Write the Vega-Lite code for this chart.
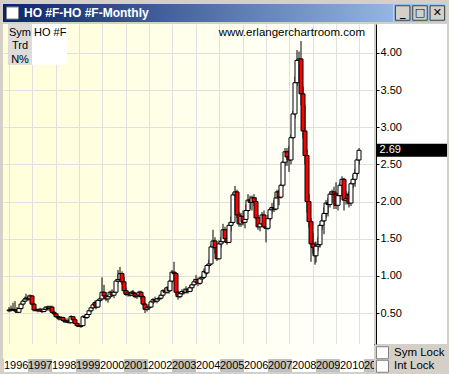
{
  "$schema": "https://vega.github.io/schema/vega-lite/v6.json",
  "background": "#D4D0C8",
  "padding": {"left": 3, "top": 3, "right": 4, "bottom": 4},
  "spacing": 1,
  "config": {
    "view": {"stroke": null},
    "font": "Liberation Sans",
    "concat": {"spacing": 0},
    "axis": {"labelFont": "Liberation Sans"}
  },
  "datasets": {
    "ho": [
      {"d":"1996-01-01","o":0.53,"h":0.58,"l":0.51,"c":0.54},
      {"d":"1996-02-01","o":0.54,"h":0.60,"l":0.52,"c":0.55},
      {"d":"1996-03-01","o":0.55,"h":0.64,"l":0.53,"c":0.54},
      {"d":"1996-04-01","o":0.54,"h":0.66,"l":0.52,"c":0.53},
      {"d":"1996-05-01","o":0.53,"h":0.58,"l":0.50,"c":0.51},
      {"d":"1996-06-01","o":0.51,"h":0.57,"l":0.50,"c":0.56},
      {"d":"1996-07-01","o":0.56,"h":0.64,"l":0.55,"c":0.62},
      {"d":"1996-08-01","o":0.62,"h":0.68,"l":0.60,"c":0.66},
      {"d":"1996-09-01","o":0.66,"h":0.72,"l":0.64,"c":0.69},
      {"d":"1996-10-01","o":0.69,"h":0.76,"l":0.67,"c":0.70},
      {"d":"1996-11-01","o":0.70,"h":0.74,"l":0.66,"c":0.69},
      {"d":"1996-12-01","o":0.69,"h":0.75,"l":0.67,"c":0.73},
      {"d":"1997-01-01","o":0.73,"h":0.74,"l":0.60,"c":0.62},
      {"d":"1997-02-01","o":0.62,"h":0.63,"l":0.52,"c":0.54},
      {"d":"1997-03-01","o":0.54,"h":0.57,"l":0.52,"c":0.54},
      {"d":"1997-04-01","o":0.54,"h":0.56,"l":0.51,"c":0.53},
      {"d":"1997-05-01","o":0.53,"h":0.57,"l":0.52,"c":0.55},
      {"d":"1997-06-01","o":0.55,"h":0.56,"l":0.50,"c":0.52},
      {"d":"1997-07-01","o":0.52,"h":0.56,"l":0.51,"c":0.55},
      {"d":"1997-08-01","o":0.55,"h":0.59,"l":0.53,"c":0.58},
      {"d":"1997-09-01","o":0.58,"h":0.60,"l":0.53,"c":0.56},
      {"d":"1997-10-01","o":0.56,"h":0.60,"l":0.53,"c":0.58},
      {"d":"1997-11-01","o":0.58,"h":0.60,"l":0.50,"c":0.51},
      {"d":"1997-12-01","o":0.51,"h":0.53,"l":0.47,"c":0.49},
      {"d":"1998-01-01","o":0.49,"h":0.50,"l":0.44,"c":0.45},
      {"d":"1998-02-01","o":0.45,"h":0.47,"l":0.42,"c":0.44},
      {"d":"1998-03-01","o":0.44,"h":0.46,"l":0.40,"c":0.42},
      {"d":"1998-04-01","o":0.42,"h":0.46,"l":0.41,"c":0.44},
      {"d":"1998-05-01","o":0.44,"h":0.45,"l":0.39,"c":0.40},
      {"d":"1998-06-01","o":0.40,"h":0.42,"l":0.37,"c":0.38},
      {"d":"1998-07-01","o":0.38,"h":0.43,"l":0.37,"c":0.39},
      {"d":"1998-08-01","o":0.39,"h":0.42,"l":0.36,"c":0.37},
      {"d":"1998-09-01","o":0.37,"h":0.47,"l":0.36,"c":0.45},
      {"d":"1998-10-01","o":0.45,"h":0.46,"l":0.39,"c":0.41},
      {"d":"1998-11-01","o":0.41,"h":0.43,"l":0.35,"c":0.36},
      {"d":"1998-12-01","o":0.36,"h":0.37,"l":0.31,"c":0.33},
      {"d":"1999-01-01","o":0.33,"h":0.36,"l":0.31,"c":0.32},
      {"d":"1999-02-01","o":0.32,"h":0.34,"l":0.30,"c":0.33},
      {"d":"1999-03-01","o":0.33,"h":0.47,"l":0.33,"c":0.45},
      {"d":"1999-04-01","o":0.45,"h":0.48,"l":0.42,"c":0.44},
      {"d":"1999-05-01","o":0.44,"h":0.50,"l":0.42,"c":0.48},
      {"d":"1999-06-01","o":0.48,"h":0.54,"l":0.45,"c":0.53},
      {"d":"1999-07-01","o":0.53,"h":0.58,"l":0.51,"c":0.57},
      {"d":"1999-08-01","o":0.57,"h":0.63,"l":0.55,"c":0.61},
      {"d":"1999-09-01","o":0.61,"h":0.67,"l":0.58,"c":0.64},
      {"d":"1999-10-01","o":0.64,"h":0.66,"l":0.55,"c":0.58},
      {"d":"1999-11-01","o":0.58,"h":0.69,"l":0.57,"c":0.67},
      {"d":"1999-12-01","o":0.67,"h":0.72,"l":0.64,"c":0.69},
      {"d":"2000-01-01","o":0.69,"h":0.98,"l":0.67,"c":0.78},
      {"d":"2000-02-01","o":0.78,"h":0.88,"l":0.70,"c":0.73},
      {"d":"2000-03-01","o":0.73,"h":0.78,"l":0.66,"c":0.69},
      {"d":"2000-04-01","o":0.69,"h":0.74,"l":0.64,"c":0.72},
      {"d":"2000-05-01","o":0.72,"h":0.80,"l":0.70,"c":0.78},
      {"d":"2000-06-01","o":0.78,"h":0.82,"l":0.72,"c":0.74},
      {"d":"2000-07-01","o":0.74,"h":0.80,"l":0.70,"c":0.78},
      {"d":"2000-08-01","o":0.78,"h":0.96,"l":0.76,"c":0.93},
      {"d":"2000-09-01","o":0.93,"h":1.08,"l":0.90,"c":0.95},
      {"d":"2000-10-01","o":0.95,"h":1.12,"l":0.92,"c":1.03},
      {"d":"2000-11-01","o":1.03,"h":1.06,"l":0.88,"c":0.92},
      {"d":"2000-12-01","o":0.92,"h":0.98,"l":0.76,"c":0.80},
      {"d":"2001-01-01","o":0.80,"h":0.84,"l":0.73,"c":0.75},
      {"d":"2001-02-01","o":0.75,"h":0.80,"l":0.72,"c":0.77},
      {"d":"2001-03-01","o":0.77,"h":0.79,"l":0.72,"c":0.74},
      {"d":"2001-04-01","o":0.74,"h":0.80,"l":0.73,"c":0.78},
      {"d":"2001-05-01","o":0.78,"h":0.81,"l":0.74,"c":0.76},
      {"d":"2001-06-01","o":0.76,"h":0.78,"l":0.70,"c":0.72},
      {"d":"2001-07-01","o":0.72,"h":0.76,"l":0.69,"c":0.74},
      {"d":"2001-08-01","o":0.74,"h":0.80,"l":0.72,"c":0.78},
      {"d":"2001-09-01","o":0.78,"h":0.80,"l":0.68,"c":0.72},
      {"d":"2001-10-01","o":0.72,"h":0.74,"l":0.60,"c":0.62},
      {"d":"2001-11-01","o":0.62,"h":0.64,"l":0.50,"c":0.55},
      {"d":"2001-12-01","o":0.55,"h":0.60,"l":0.52,"c":0.57},
      {"d":"2002-01-01","o":0.57,"h":0.62,"l":0.54,"c":0.58},
      {"d":"2002-02-01","o":0.58,"h":0.66,"l":0.57,"c":0.65},
      {"d":"2002-03-01","o":0.65,"h":0.70,"l":0.62,"c":0.68},
      {"d":"2002-04-01","o":0.68,"h":0.72,"l":0.64,"c":0.66},
      {"d":"2002-05-01","o":0.66,"h":0.70,"l":0.63,"c":0.69},
      {"d":"2002-06-01","o":0.69,"h":0.72,"l":0.66,"c":0.70},
      {"d":"2002-07-01","o":0.70,"h":0.76,"l":0.68,"c":0.74},
      {"d":"2002-08-01","o":0.74,"h":0.82,"l":0.72,"c":0.80},
      {"d":"2002-09-01","o":0.80,"h":0.84,"l":0.76,"c":0.78},
      {"d":"2002-10-01","o":0.78,"h":0.86,"l":0.76,"c":0.84},
      {"d":"2002-11-01","o":0.84,"h":0.87,"l":0.76,"c":0.80},
      {"d":"2002-12-01","o":0.80,"h":0.95,"l":0.79,"c":0.93},
      {"d":"2003-01-01","o":0.93,"h":1.08,"l":0.90,"c":1.05},
      {"d":"2003-02-01","o":1.05,"h":1.19,"l":0.97,"c":1.03},
      {"d":"2003-03-01","o":1.03,"h":1.05,"l":0.74,"c":0.78},
      {"d":"2003-04-01","o":0.78,"h":0.80,"l":0.68,"c":0.72},
      {"d":"2003-05-01","o":0.72,"h":0.78,"l":0.70,"c":0.76},
      {"d":"2003-06-01","o":0.76,"h":0.82,"l":0.74,"c":0.79},
      {"d":"2003-07-01","o":0.79,"h":0.83,"l":0.75,"c":0.78},
      {"d":"2003-08-01","o":0.78,"h":0.86,"l":0.76,"c":0.82},
      {"d":"2003-09-01","o":0.82,"h":0.84,"l":0.76,"c":0.79},
      {"d":"2003-10-01","o":0.79,"h":0.88,"l":0.78,"c":0.84},
      {"d":"2003-11-01","o":0.84,"h":0.90,"l":0.80,"c":0.88},
      {"d":"2003-12-01","o":0.88,"h":0.96,"l":0.86,"c":0.92},
      {"d":"2004-01-01","o":0.92,"h":1.01,"l":0.88,"c":0.95},
      {"d":"2004-02-01","o":0.95,"h":0.98,"l":0.86,"c":0.90},
      {"d":"2004-03-01","o":0.90,"h":0.99,"l":0.88,"c":0.96},
      {"d":"2004-04-01","o":0.96,"h":1.01,"l":0.91,"c":0.98},
      {"d":"2004-05-01","o":0.98,"h":1.10,"l":0.96,"c":1.06},
      {"d":"2004-06-01","o":1.06,"h":1.12,"l":1.00,"c":1.04},
      {"d":"2004-07-01","o":1.04,"h":1.16,"l":1.02,"c":1.14},
      {"d":"2004-08-01","o":1.14,"h":1.22,"l":1.10,"c":1.16},
      {"d":"2004-09-01","o":1.16,"h":1.42,"l":1.15,"c":1.39},
      {"d":"2004-10-01","o":1.39,"h":1.62,"l":1.36,"c":1.47},
      {"d":"2004-11-01","o":1.47,"h":1.52,"l":1.30,"c":1.38},
      {"d":"2004-12-01","o":1.38,"h":1.42,"l":1.20,"c":1.23},
      {"d":"2005-01-01","o":1.23,"h":1.48,"l":1.22,"c":1.43},
      {"d":"2005-02-01","o":1.43,"h":1.52,"l":1.38,"c":1.46},
      {"d":"2005-03-01","o":1.46,"h":1.70,"l":1.44,"c":1.62},
      {"d":"2005-04-01","o":1.62,"h":1.66,"l":1.45,"c":1.50},
      {"d":"2005-05-01","o":1.50,"h":1.58,"l":1.42,"c":1.45},
      {"d":"2005-06-01","o":1.45,"h":1.72,"l":1.44,"c":1.68},
      {"d":"2005-07-01","o":1.68,"h":1.80,"l":1.60,"c":1.72},
      {"d":"2005-08-01","o":1.72,"h":2.12,"l":1.70,"c":2.09},
      {"d":"2005-09-01","o":2.09,"h":2.21,"l":1.95,"c":2.13},
      {"d":"2005-10-01","o":2.13,"h":2.16,"l":1.78,"c":1.82},
      {"d":"2005-11-01","o":1.82,"h":1.86,"l":1.66,"c":1.70},
      {"d":"2005-12-01","o":1.70,"h":1.85,"l":1.66,"c":1.80},
      {"d":"2006-01-01","o":1.80,"h":1.88,"l":1.68,"c":1.72},
      {"d":"2006-02-01","o":1.72,"h":1.80,"l":1.64,"c":1.76},
      {"d":"2006-03-01","o":1.76,"h":1.96,"l":1.72,"c":1.88},
      {"d":"2006-04-01","o":1.88,"h":2.10,"l":1.86,"c":2.02},
      {"d":"2006-05-01","o":2.02,"h":2.08,"l":1.90,"c":1.99},
      {"d":"2006-06-01","o":1.99,"h":2.08,"l":1.88,"c":2.05},
      {"d":"2006-07-01","o":2.05,"h":2.10,"l":1.94,"c":2.00},
      {"d":"2006-08-01","o":2.00,"h":2.06,"l":1.76,"c":1.78},
      {"d":"2006-09-01","o":1.78,"h":1.82,"l":1.62,"c":1.66},
      {"d":"2006-10-01","o":1.66,"h":1.76,"l":1.60,"c":1.70},
      {"d":"2006-11-01","o":1.70,"h":1.86,"l":1.66,"c":1.82},
      {"d":"2006-12-01","o":1.82,"h":1.88,"l":1.64,"c":1.66},
      {"d":"2007-01-01","o":1.66,"h":1.72,"l":1.45,"c":1.64},
      {"d":"2007-02-01","o":1.64,"h":1.82,"l":1.62,"c":1.77},
      {"d":"2007-03-01","o":1.77,"h":1.92,"l":1.74,"c":1.89},
      {"d":"2007-04-01","o":1.89,"h":1.98,"l":1.84,"c":1.92},
      {"d":"2007-05-01","o":1.92,"h":2.02,"l":1.86,"c":1.90},
      {"d":"2007-06-01","o":1.90,"h":2.06,"l":1.88,"c":2.05},
      {"d":"2007-07-01","o":2.05,"h":2.16,"l":2.02,"c":2.13},
      {"d":"2007-08-01","o":2.13,"h":2.16,"l":1.95,"c":2.06},
      {"d":"2007-09-01","o":2.06,"h":2.24,"l":2.04,"c":2.22},
      {"d":"2007-10-01","o":2.22,"h":2.55,"l":2.20,"c":2.53},
      {"d":"2007-11-01","o":2.53,"h":2.72,"l":2.48,"c":2.67},
      {"d":"2007-12-01","o":2.67,"h":2.72,"l":2.48,"c":2.60},
      {"d":"2008-01-01","o":2.60,"h":2.75,"l":2.40,"c":2.56},
      {"d":"2008-02-01","o":2.56,"h":2.90,"l":2.50,"c":2.86},
      {"d":"2008-03-01","o":2.86,"h":3.22,"l":2.84,"c":3.18},
      {"d":"2008-04-01","o":3.18,"h":3.68,"l":3.12,"c":3.60},
      {"d":"2008-05-01","o":3.60,"h":4.04,"l":3.55,"c":3.90},
      {"d":"2008-06-01","o":3.90,"h":4.02,"l":3.70,"c":3.92},
      {"d":"2008-07-01","o":3.92,"h":4.16,"l":3.30,"c":3.45},
      {"d":"2008-08-01","o":3.45,"h":3.55,"l":2.85,"c":2.95},
      {"d":"2008-09-01","o":2.95,"h":3.30,"l":2.50,"c":2.62},
      {"d":"2008-10-01","o":2.62,"h":2.70,"l":1.85,"c":2.00},
      {"d":"2008-11-01","o":2.00,"h":2.10,"l":1.65,"c":1.73},
      {"d":"2008-12-01","o":1.73,"h":1.78,"l":1.19,"c":1.43},
      {"d":"2009-01-01","o":1.43,"h":1.58,"l":1.30,"c":1.38},
      {"d":"2009-02-01","o":1.38,"h":1.46,"l":1.15,"c":1.27},
      {"d":"2009-03-01","o":1.27,"h":1.46,"l":1.18,"c":1.40},
      {"d":"2009-04-01","o":1.40,"h":1.52,"l":1.34,"c":1.42},
      {"d":"2009-05-01","o":1.42,"h":1.70,"l":1.38,"c":1.68},
      {"d":"2009-06-01","o":1.68,"h":1.82,"l":1.62,"c":1.74},
      {"d":"2009-07-01","o":1.74,"h":1.92,"l":1.56,"c":1.84},
      {"d":"2009-08-01","o":1.84,"h":2.02,"l":1.78,"c":1.98},
      {"d":"2009-09-01","o":1.98,"h":2.05,"l":1.80,"c":1.96},
      {"d":"2009-10-01","o":1.96,"h":2.14,"l":1.92,"c":2.10},
      {"d":"2009-11-01","o":2.10,"h":2.16,"l":1.98,"c":2.13},
      {"d":"2009-12-01","o":2.13,"h":2.20,"l":1.90,"c":2.10},
      {"d":"2010-01-01","o":2.10,"h":2.26,"l":1.90,"c":1.95},
      {"d":"2010-02-01","o":1.95,"h":2.12,"l":1.88,"c":2.08},
      {"d":"2010-03-01","o":2.08,"h":2.26,"l":2.00,"c":2.22},
      {"d":"2010-04-01","o":2.22,"h":2.34,"l":2.16,"c":2.30},
      {"d":"2010-05-01","o":2.30,"h":2.32,"l":1.88,"c":2.02},
      {"d":"2010-06-01","o":2.02,"h":2.14,"l":1.96,"c":2.04},
      {"d":"2010-07-01","o":2.04,"h":2.12,"l":1.96,"c":2.09},
      {"d":"2010-08-01","o":2.09,"h":2.14,"l":1.92,"c":1.98},
      {"d":"2010-09-01","o":1.98,"h":2.26,"l":1.94,"c":2.24},
      {"d":"2010-10-01","o":2.24,"h":2.36,"l":2.18,"c":2.30},
      {"d":"2010-11-01","o":2.30,"h":2.44,"l":2.20,"c":2.38},
      {"d":"2010-12-01","o":2.38,"h":2.58,"l":2.34,"c":2.56},
      {"d":"2011-01-01","o":2.56,"h":2.72,"l":2.50,"c":2.69}
    ],
    "years": [
      {"yr":"1996","s":"1996-01-01","e":"1997-01-01"},
      {"yr":"1997","s":"1997-01-01","e":"1998-01-01"},
      {"yr":"1998","s":"1998-01-01","e":"1999-01-01"},
      {"yr":"1999","s":"1999-01-01","e":"2000-01-01"},
      {"yr":"2000","s":"2000-01-01","e":"2001-01-01"},
      {"yr":"2001","s":"2001-01-01","e":"2002-01-01"},
      {"yr":"2002","s":"2002-01-01","e":"2003-01-01"},
      {"yr":"2003","s":"2003-01-01","e":"2004-01-01"},
      {"yr":"2004","s":"2004-01-01","e":"2005-01-01"},
      {"yr":"2005","s":"2005-01-01","e":"2006-01-01"},
      {"yr":"2006","s":"2006-01-01","e":"2007-01-01"},
      {"yr":"2007","s":"2007-01-01","e":"2008-01-01"},
      {"yr":"2008","s":"2008-01-01","e":"2009-01-01"},
      {"yr":"2009","s":"2009-01-01","e":"2010-01-01"},
      {"yr":"2010","s":"2010-01-01","e":"2011-01-01"},
      {"yr":"2011","s":"2011-01-01","e":"2012-01-01"}
    ]
  },
  "vconcat": [
    {
      "spacing": 0,
      "hconcat": [
        {
          "width": 390, "height": 18,
          "data": {"values": [{"t": "HO #F-HO #F-Monthly"}]},
          "layer": [
            {"mark": {"type": "rect", "fill": {"gradient": "linear", "x1": 0, "y1": 0, "x2": 1, "y2": 0, "stops": [{"offset": 0, "color": "#0A246A"}, {"offset": 1, "color": "#94B6E0"}]}}, "encoding": {}},
            {"mark": {"type": "square", "size": 144, "fill": "#FFFFFF", "stroke": "#808080", "strokeWidth": 1, "opacity": 1, "xOffset": 9.5},
             "encoding": {"x": {"datum": 0, "type": "quantitative", "scale": {"domain": [0, 1]}, "axis": null}}},
            {"mark": {"type": "text", "align": "left", "baseline": "middle", "dx": 21, "fontWeight": "bold", "fontSize": 12, "color": "#FFFFFF"},
             "encoding": {"x": {"datum": 0, "type": "quantitative", "scale": {"domain": [0, 1]}, "axis": null}, "text": {"field": "t"}}}
          ]
        },
        {
          "width": 52, "height": 18,
          "data": {"values": [{"b": "min", "g": "_"}, {"b": "max", "g": "□"}, {"b": "close", "g": "✕"}]},
          "layer": [
            {"mark": {"type": "rect", "fill": {"gradient": "linear", "x1": 0, "y1": 0, "x2": 1, "y2": 0, "stops": [{"offset": 0, "color": "#94B6E0"}, {"offset": 1, "color": "#A6CAF0"}]}}, "encoding": {}},
            {"mark": {"type": "square", "size": 210, "fill": "#D4D0C8", "stroke": "#404040", "strokeWidth": 1, "opacity": 1},
             "encoding": {"x": {"field": "b", "type": "nominal", "sort": null, "axis": null}}},
            {"mark": {"type": "text", "fontWeight": "bold", "fontSize": 11, "font": "DejaVu Sans", "color": "#000000", "baseline": "middle"},
             "encoding": {"x": {"field": "b", "type": "nominal", "sort": null, "axis": null}, "text": {"field": "g"}}}
          ]
        }
      ]
    },
    {
      "spacing": 0,
      "hconcat": [
        {
          "spacing": 0,
          "vconcat": [
            {
              "width": 371, "height": 320,
              "view": {"stroke": null, "fill": {"gradient": "linear", "x1": 0, "y1": 0, "x2": 1, "y2": 0, "stops": [{"offset": 0, "color": "#FFFFD8"}, {"offset": 1, "color": "#FFFFFF"}]}},
              "layer": [
                {
                  "data": {"name": "ho"},
                  "mark": {"type": "rule", "color": "#000000", "strokeWidth": 1},
                  "encoding": {
                    "x": {"field": "d", "type": "temporal",
                          "scale": {"type": "utc", "round": true, "domain": [{"year": 1995, "month": 12, "date": 17, "utc": true}, {"year": 2011, "month": 6, "date": 2, "utc": true}]},
                          "axis": {"title": null, "labels": false, "ticks": false, "domain": true, "domainColor": "#000000", "domainWidth": 1, "grid": true, "gridColor": "#E0E0E0", "tickCount": {"interval": "year", "step": 1}, "minExtent": 0, "maxExtent": 0}},
                    "y": {"field": "l", "type": "quantitative",
                          "scale": {"domain": [0.083, 4.39], "nice": false, "zero": false},
                          "axis": {"title": null, "labels": false, "ticks": false, "domain": false, "grid": true, "gridColor": "#E0E0E0", "values": [0.5, 1, 1.5, 2, 2.5, 3, 3.5, 4], "minExtent": 0, "maxExtent": 0}},
                    "y2": {"field": "h"}
                  }
                },
                {
                  "data": {"name": "ho"},
                  "mark": {"type": "bar", "size": 4, "stroke": "#000000", "strokeWidth": 1},
                  "encoding": {
                    "x": {"field": "d", "type": "temporal"},
                    "y": {"field": "o", "type": "quantitative"},
                    "y2": {"field": "c"},
                    "fill": {"condition": {"test": "datum.c < datum.o", "value": "#FF0000"}, "value": "#FFFFFF"}
                  }
                },
                {
                  "data": {"values": [{}]},
                  "mark": {"type": "rect", "fill": "#DCDCDC"},
                  "encoding": {
                    "x": {"datum": {"year": 1995, "month": 12, "date": 17, "utc": true}, "type": "temporal"},
                    "x2": {"datum": {"year": 1996, "month": 12, "date": 28, "utc": true}},
                    "y": {"datum": 3.84, "type": "quantitative"},
                    "y2": {"datum": 4.39}
                  }
                },
                {
                  "data": {"values": [{}]},
                  "mark": {"type": "rect", "fill": "#FFFFFF"},
                  "encoding": {
                    "x": {"datum": {"year": 1996, "month": 12, "date": 28, "utc": true}, "type": "temporal"},
                    "x2": {"datum": {"year": 1998, "month": 7, "date": 1, "utc": true}},
                    "y": {"datum": 3.84, "type": "quantitative"},
                    "y2": {"datum": 4.39}
                  }
                },
                {
                  "data": {"values": [{}]},
                  "mark": {"type": "text", "text": ["Sym", "Trd", "N%"], "lineHeight": 13.8, "align": "center", "baseline": "middle", "fontSize": 11, "color": "#000000"},
                  "encoding": {
                    "x": {"datum": {"year": 1996, "month": 6, "date": 16, "utc": true}, "type": "temporal"},
                    "y": {"datum": 4.273, "type": "quantitative"}
                  }
                },
                {
                  "data": {"values": [{}]},
                  "mark": {"type": "text", "text": "HO #F", "align": "left", "baseline": "middle", "fontSize": 11, "color": "#000000"},
                  "encoding": {
                    "x": {"datum": {"year": 1997, "month": 2, "date": 1, "utc": true}, "type": "temporal"},
                    "y": {"datum": 4.273, "type": "quantitative"}
                  }
                },
                {
                  "data": {"values": [{}]},
                  "mark": {"type": "text", "text": "www.erlangerchartroom.com", "align": "right", "baseline": "middle", "fontSize": 11.5, "color": "#000000"},
                  "encoding": {
                    "x": {"datum": {"year": 2011, "month": 4, "date": 1, "utc": true}, "type": "temporal"},
                    "y": {"datum": 4.273, "type": "quantitative"}
                  }
                }
              ]
            },
            {
              "width": 371, "height": 15,
              "view": {"stroke": null, "fill": {"gradient": "linear", "x1": 0, "y1": 0, "x2": 1, "y2": 0, "stops": [{"offset": 0, "color": "#FFFFD8"}, {"offset": 1, "color": "#FFFFFF"}]}},
              "data": {"values": [{}]},
              "mark": {"type": "rect", "opacity": 0},
              "encoding": {}
            },
            {
              "width": 371, "height": 13,
              "data": {"name": "years"},
              "layer": [
                {
                  "mark": {"type": "rect", "clip": true},
                  "encoding": {
                    "x": {"field": "s", "type": "temporal",
                          "scale": {"type": "utc", "round": true, "domain": [{"year": 1995, "month": 12, "date": 17, "utc": true}, {"year": 2011, "month": 6, "date": 2, "utc": true}]},
                          "axis": null},
                    "x2": {"field": "e"},
                    "fill": {"field": "yr", "type": "ordinal", "scale": {"range": ["#FFFFFF", "#C0C0C0"]}, "legend": null}
                  }
                },
                {
                  "mark": {"type": "text", "align": "left", "baseline": "middle", "fontSize": 11, "color": "#000000", "clip": true},
                  "encoding": {
                    "x": {"field": "s", "type": "temporal"},
                    "text": {"field": "yr"}
                  }
                }
              ]
            }
          ]
        },
        {
          "spacing": 0,
          "vconcat": [
            {
              "width": 71, "height": 320,
              "view": {"stroke": null, "fill": "#FFFFFF"},
              "data": {"name": "ho"},
              "transform": [{"filter": "utcyear(datum.d) == 2011"}],
              "layer": [
                {
                  "mark": {"type": "rect", "fill": "#000000", "height": 13},
                  "encoding": {
                    "y": {"field": "c", "type": "quantitative",
                          "scale": {"domain": [0.083, 4.39], "nice": false, "zero": false},
                          "axis": {"orient": "right", "offset": -71, "values": [0.5, 1, 1.5, 2, 2.5, 3, 3.5, 4], "format": ".2f", "title": null, "grid": false, "domain": true, "domainColor": "#000000", "ticks": true, "tickColor": "#000000", "tickSize": 3, "labelPadding": 1, "labelColor": "#000000", "labelFontSize": 11, "labelFont": "Liberation Sans", "labelFlush": false, "labelOverlap": false, "minExtent": 0}}
                  }
                },
                {
                  "mark": {"type": "text", "align": "left", "baseline": "middle", "dx": -32, "fontSize": 11, "color": "#FFFFFF"},
                  "encoding": {
                    "y": {"field": "c", "type": "quantitative"},
                    "text": {"field": "c", "type": "quantitative", "format": ".2f"}
                  }
                }
              ]
            },
            {
              "width": 71, "height": 27,
              "data": {"values": [{"t": "Sym Lock"}, {"t": "Int Lock"}]},
              "layer": [
                {
                  "mark": {"type": "square", "size": 144, "fill": "#FFFFFF", "stroke": "#808080", "strokeWidth": 1, "opacity": 1, "xOffset": 6.5},
                  "encoding": {
                    "x": {"datum": 0, "type": "quantitative", "scale": {"domain": [0, 1]}, "axis": null},
                    "y": {"field": "t", "type": "nominal", "sort": null, "axis": null}
                  }
                },
                {
                  "mark": {"type": "text", "align": "left", "baseline": "middle", "dx": 18, "fontSize": 11.5, "color": "#000000"},
                  "encoding": {
                    "x": {"datum": 0, "type": "quantitative", "scale": {"domain": [0, 1]}, "axis": null},
                    "y": {"field": "t", "type": "nominal", "sort": null, "axis": null},
                    "text": {"field": "t"}
                  }
                }
              ]
            }
          ]
        }
      ]
    }
  ]
}
